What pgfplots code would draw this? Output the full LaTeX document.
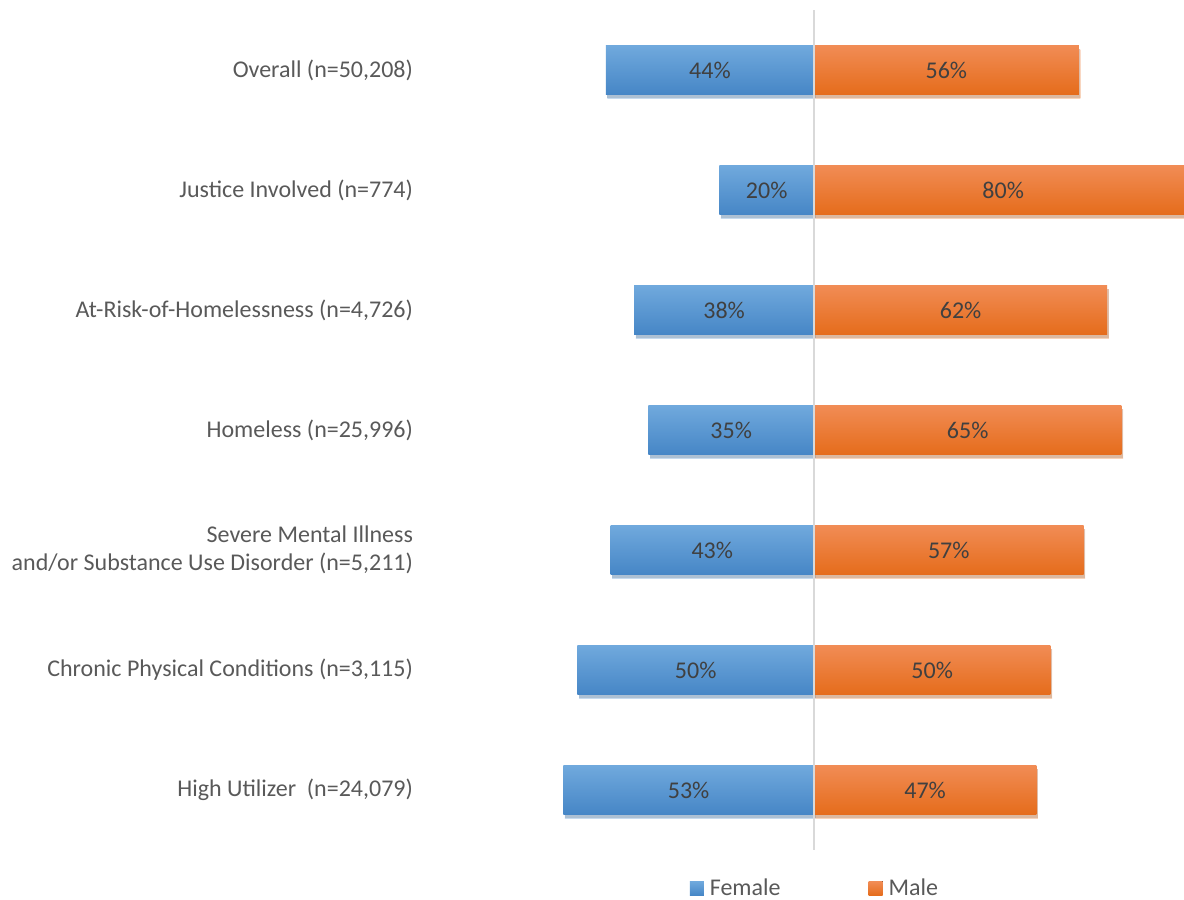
\documentclass[border=0pt]{standalone}
\usepackage{fontspec}
\setmainfont{Carlito}
\usepackage{pgfplots}
\pgfplotsset{compat=1.18}
\usetikzlibrary{shadows}
\definecolor{femT}{HTML}{70A9DD}
\definecolor{femB}{HTML}{4686C6}
\definecolor{malT}{HTML}{F18C55}
\definecolor{malB}{HTML}{E56C1B}
\definecolor{lbl}{HTML}{404040}
\definecolor{cat}{HTML}{595959}
\definecolor{midline}{HTML}{D9D9D9}
\pgfplotsset{
  fem/.style={forget plot, draw=none, top color=femT, bottom color=femB,
    drop shadow={shadow xshift=0.8pt, shadow yshift=-1.8pt, opacity=0.3}},
  mal/.style={forget plot, draw=none, top color=malT, bottom color=malB,
    drop shadow={shadow xshift=0.8pt, shadow yshift=-1.8pt, opacity=0.3}},
}
\begin{document}
\begin{tikzpicture}
% page = 592 x 450 pt (0.5 pt per reference pixel)
\useasboundingbox (-210pt,-25pt) rectangle (382pt,425pt);
\begin{axis}[
  at={(0,0)}, anchor=south west,
  scale only axis, width=390.9pt, height=420pt,
  xbar, bar width=24.5pt, bar shift=0pt,
  xmin=-83.3, xmax=82, ymin=-0.5, ymax=6.5,
  axis line style={draw=none}, major tick length=0pt,
  xtick=\empty, ytick={0,...,6},
  yticklabels={{High Utilizer\ \ (n=24,079)},
               {Chronic Physical Conditions (n=3,115)},
               {Severe Mental Illness\\and/or Substance Use Disorder (n=5,211)},
               {Homeless (n=25,996)},
               {At-Risk-of-Homelessness (n=4,726)},
               {Justice Involved (n=774)},
               {Overall (n=50,208)}},
  yticklabel style={align=right, text=cat, font=\fontsize{12}{14}\selectfont},
  clip=false,
  point meta=explicit symbolic,
  nodes near coords,
  visualization depends on=rawx \as \rawx,
  every node near coord/.append style={anchor=center, text=lbl,
    font=\fontsize{12}{14}\selectfont,
    shift={(axis direction cs:{-0.5*(\rawx)},0)}},
  legend image code/.code={\fill[#1] (0pt,-3.5pt) rectangle (7pt,3.5pt);},
  legend style={at={(0.5039,-0.0458)}, anchor=center, draw=none, fill=none,
    legend columns=2, font=\fontsize{12}{14}\selectfont, text=cat,
    nodes={inner sep=0pt},
    /tikz/every odd column/.append style={column sep=3pt},
    /tikz/every even column/.append style={column sep=44pt}},
]
% female (drawn on the negative side)
\addplot[fem] coordinates {(-53,0) [53\%]};
\addplot[fem] coordinates {(-50,1) [50\%]};
\addplot[fem] coordinates {(-43,2) [43\%]};
\addplot[fem] coordinates {(-35,3) [35\%]};
\addplot[fem] coordinates {(-38,4) [38\%]};
\addplot[fem] coordinates {(-20,5) [20\%]};
\addplot[fem] coordinates {(-44,6) [44\%]};
% male
\addplot[mal] coordinates {(47,0) [47\%]};
\addplot[mal] coordinates {(50,1) [50\%]};
\addplot[mal] coordinates {(57,2) [57\%]};
\addplot[mal] coordinates {(65,3) [65\%]};
\addplot[mal] coordinates {(62,4) [62\%]};
\addplot[mal] coordinates {(80,5) [80\%]};
\addplot[mal] coordinates {(56,6) [56\%]};
\draw[midline, line width=1pt] (axis cs:0,-0.5) -- (axis cs:0,6.5);
\addlegendimage{top color=femT, bottom color=femB, draw=none}
\addlegendentry{Female}
\addlegendimage{top color=malT, bottom color=malB, draw=none}
\addlegendentry{Male}
\end{axis}
\end{tikzpicture}
\end{document}
